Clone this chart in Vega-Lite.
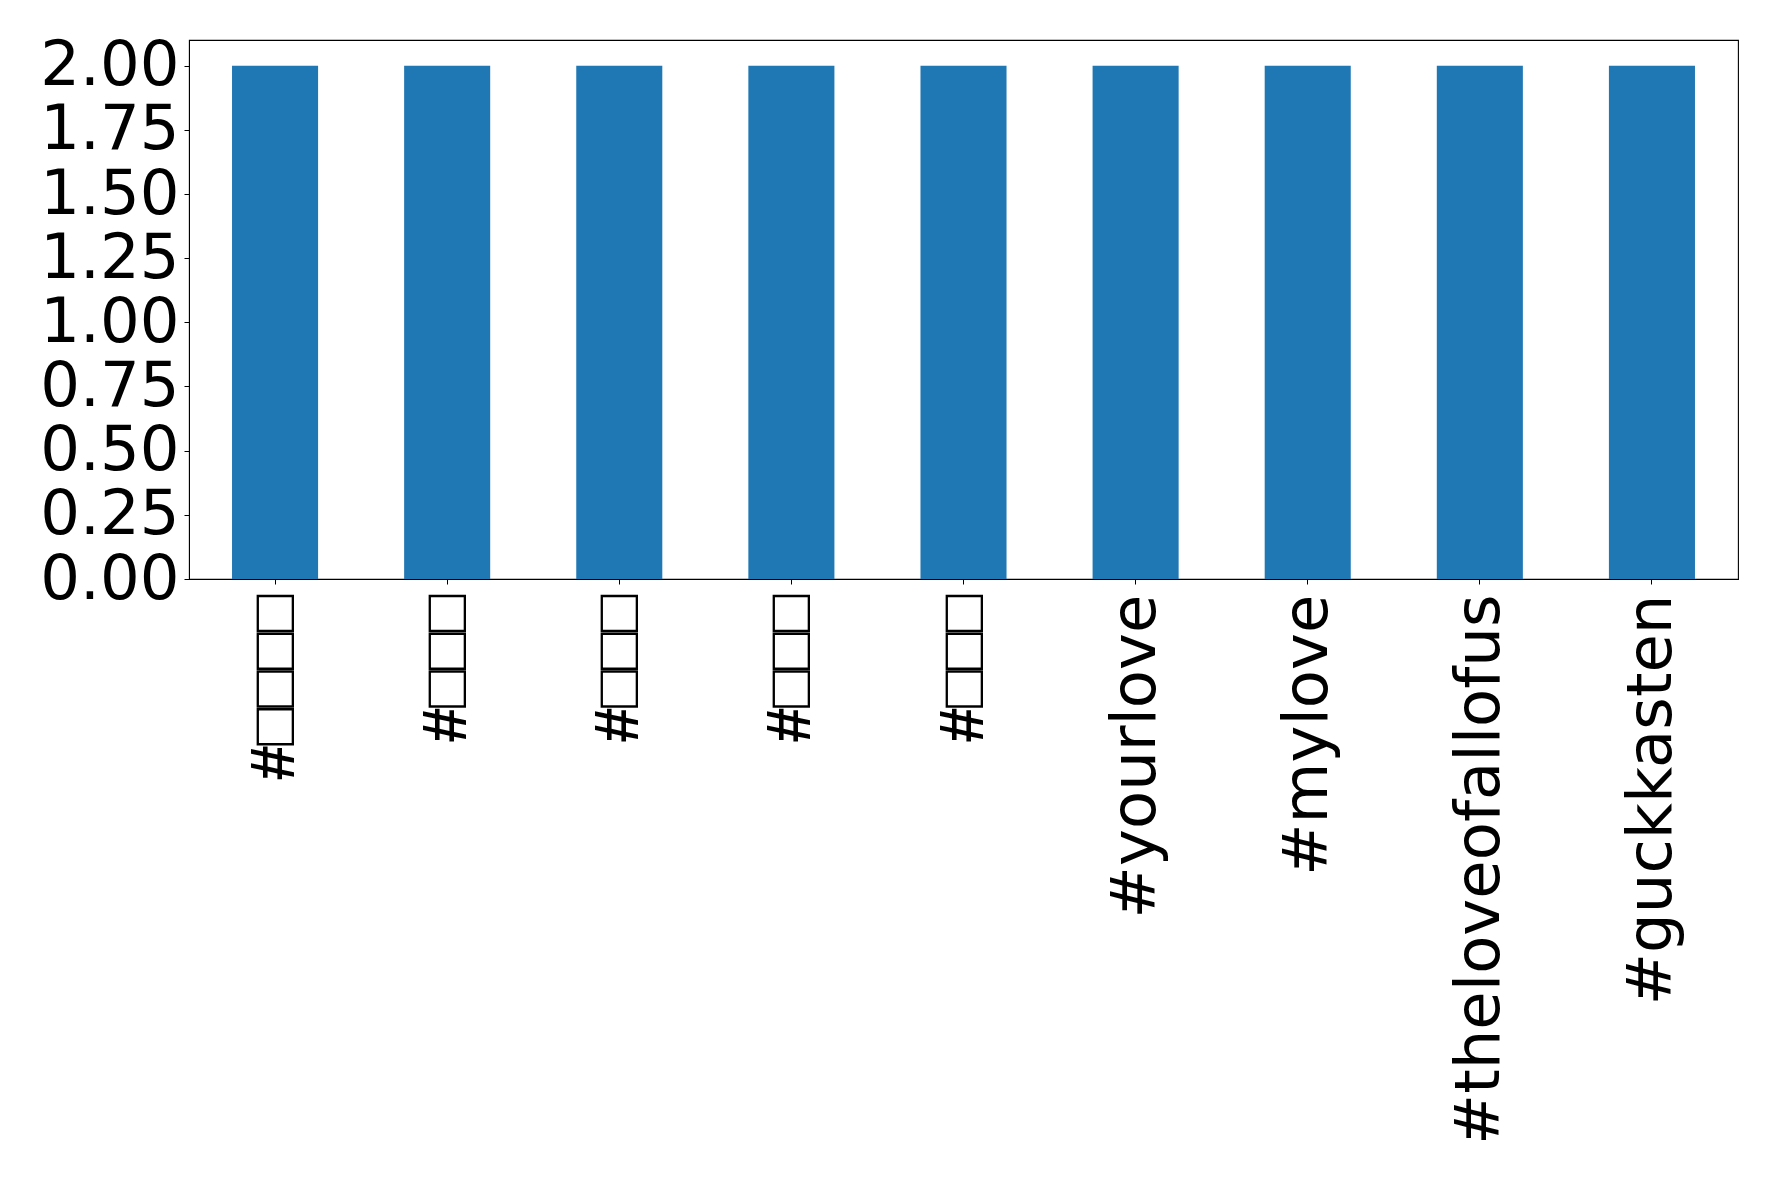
{
  "$schema": "https://vega.github.io/schema/vega-lite/v6.json",
  "autosize": {"type": "none"},
  "width": 1549,
  "height": 539,
  "padding": {"left": 189, "top": 40, "right": 40, "bottom": 561},
  "background": "white",
  "config": {
    "view": {"stroke": "black", "strokeWidth": 1.1},
    "font": "DejaVu Sans"
  },
  "data": {
    "values": [
      {"tag": "#□□□□", "count": 2},
      {"tag": "#□□□", "count": 2},
      {"tag": "#□□□ ", "count": 2},
      {"tag": "#□□□  ", "count": 2},
      {"tag": "#□□□   ", "count": 2},
      {"tag": "#yourlove", "count": 2},
      {"tag": "#mylove", "count": 2},
      {"tag": "#theloveofallofus", "count": 2},
      {"tag": "#guckkasten", "count": 2}
    ]
  },
  "mark": {"type": "bar", "color": "#1f77b4"},
  "encoding": {
    "x": {
      "field": "tag",
      "type": "nominal",
      "sort": null,
      "scale": {"paddingInner": 0.5, "paddingOuter": 0.25},
      "axis": {
        "title": null,
        "labelAngle": 270,
        "labelFont": {"condition": {"test": "indexof(datum.label, '□') >= 0", "value": "Liberation Sans"}, "value": "DejaVu Sans"},
        "labelFontWeight": {"condition": {"test": "indexof(datum.label, '□') >= 0", "value": "bold"}, "value": "normal"},
        "labelFontSize": 62.5,
        "labelColor": "black",
        "labelLimit": 0,
        "labelOverlap": false,
        "labelPadding": 10,
        "tickSize": 5,
        "tickColor": "black",
        "domainColor": "black",
        "grid": false
      }
    },
    "y": {
      "field": "count",
      "type": "quantitative",
      "scale": {"domain": [0, 2.1], "nice": false, "zero": true},
      "axis": {
        "title": null,
        "values": [0, 0.25, 0.5, 0.75, 1, 1.25, 1.5, 1.75, 2],
        "format": ".2f",
        "labelFont": "DejaVu Sans",
        "labelFontSize": 62.5,
        "labelColor": "black",
        "labelPadding": 5,
        "labelFlush": false,
        "labelOverlap": false,
        "labelLimit": 0,
        "tickSize": 5,
        "tickColor": "black",
        "domainColor": "black",
        "grid": false
      }
    }
  }
}
